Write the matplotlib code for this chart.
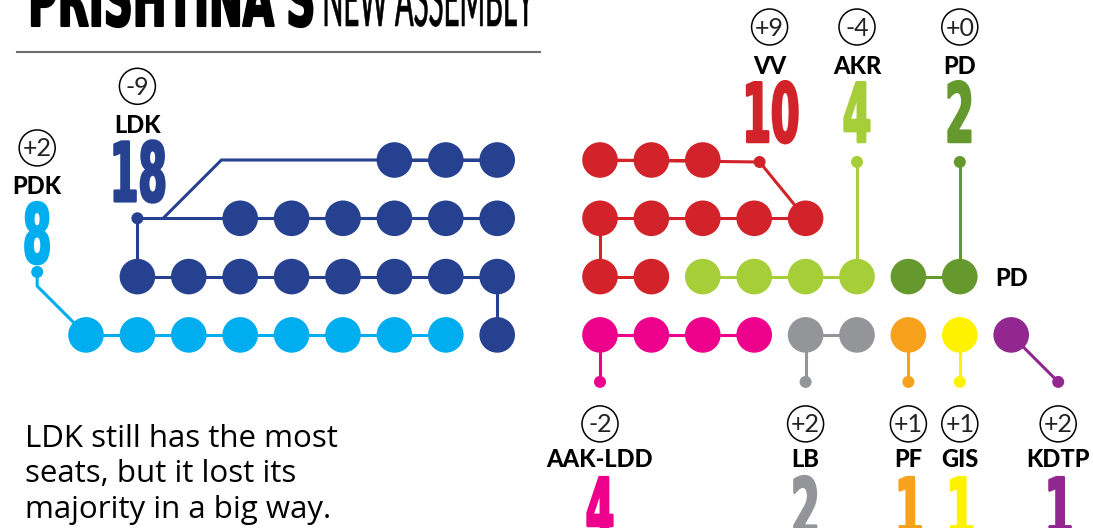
import matplotlib
matplotlib.use("Agg")
import matplotlib.pyplot as plt
from matplotlib.patches import Circle
from matplotlib.patheffects import AbstractPathEffect
from matplotlib.transforms import Affine2D

parties = ["PDK", "LDK", "VV", "AKR", "PD", "AAK-LDD", "LB", "PF", "GIS", "KDTP"]
seats = [8, 18, 10, 4, 2, 4, 2, 1, 1, 1]
changes = ["+2", "-9", "+9", "-4", "+0", "-2", "+2", "+1", "+1", "+2"]
colors = ["#00aeef", "#26418f", "#d2232a", "#a6ce39", "#65992e",
          "#ec008c", "#939598", "#f7a11d", "#fff200", "#92278f"]
title_bold = "PRISHTINA'S"
title_light = "NEW ASSEMBLY"
note = ["LDK still has the most", "seats, but it lost its", "majority in a big way."]

# --- layout (pixel space) ---
W, H = 1093, 528
X0, DX = 86, 51.4
Y0, DY = 160, 58.3
R_DOT, R_PIN = 17.8, 6
LW = 2.2

NUM_FONT = ["DejaVu Sans"]
LABEL_FONT = ["Lato", "DejaVu Sans"]


class Squeeze(AbstractPathEffect):
    """Draw a text narrowed horizontally, for the condensed display faces."""

    def __init__(self, sx, left=False, bold=0.0):
        super().__init__()
        self.sx, self.left, self.bold = sx, left, bold

    def draw_path(self, renderer, gc, tpath, affine, rgbFace=None):
        ext = tpath.get_extents(affine)
        cx = ext.x0 if self.left else 0.5 * (ext.x0 + ext.x1)
        aff = affine + Affine2D().translate(-cx, 0).scale(self.sx, 1).translate(cx, 0)
        gc0 = renderer.new_gc()
        gc0.copy_properties(gc)
        gc0.set_linewidth(self.bold)
        if self.bold and rgbFace is not None:
            gc0.set_foreground(rgbFace)
        renderer.draw_path(gc0, tpath, aff, rgbFace)
        gc0.restore()


def px(c):
    return X0 + DX * c


def py(r):
    return Y0 + DY * r


# seat slots: left block (PDK, LDK) filled from the bottom row, right block from the top row
left_slots = ([(c, 3) for c in range(0, 9)] + [(c, 2) for c in range(8, 0, -1)]
              + [(c, 1) for c in range(3, 9)] + [(c, 0) for c in range(6, 9)])
right_slots = ([(c, 0) for c in range(10, 13)] + [(c, 1) for c in range(10, 15)]
               + [(c, 2) for c in range(10, 18)] + [(c, 3) for c in range(10, 19)])

cells = {}
it_l, it_r = iter(left_slots), iter(right_slots)
for name, n in zip(parties, seats):
    src = it_l if name in ("PDK", "LDK") else it_r
    cells[name] = [next(src) for _ in range(n)]


def rows_of(name):
    out = {}
    for c, r in cells[name]:
        out.setdefault(r, []).append(c)
    return out


# connector routes and pin (anchor) positions
routes, pins, top = {}, {}, {}
a = (px(-0.95), py(1.92))
routes["PDK"] = [[a, (a[0], py(3) - (px(0) - a[0])), (px(0), py(3))]]
pins["PDK"], top["PDK"] = a, 9

rw = rows_of("LDK")
a = (px(min(rw[2])), py(1))
d0 = a[0] + 0.5 * DX
routes["LDK"] = [[a, (a[0], py(2))], [a, (px(max(rw[1])), py(1))],
                 [(d0, py(1)), (d0 + DY, py(0)), (px(max(rw[0])), py(0))],
                 [(px(max(rw[3])), py(3)), (px(max(rw[3])), py(2))]]
pins["LDK"], top["LDK"] = a, 17

rw = rows_of("VV")
a = (px(max(rw[1])) - 46, py(0) + 2)
routes["VV"] = [[(px(min(rw[0])), py(0)), a, (px(max(rw[1])), py(1))],
                [(px(min(rw[1])), py(1)), (px(min(rw[2])), py(2))]]
pins["VV"], top["VV"] = a, 20

for name in ["AKR", "PD"]:
    c = max(cc for cc, _ in cells[name])
    a = (px(c), py(0) + 2)
    routes[name] = [[a, (px(c), py(2))]]
    pins[name], top[name] = a, 20

for name in ["AAK-LDD", "LB", "PF", "GIS"]:
    c = min(cc for cc, _ in cells[name])
    a = (px(c), py(3) + 47)
    routes[name] = [[(px(c), py(3)), a]]
    pins[name] = a

c = max(cc for cc, _ in cells["KDTP"])
a = (px(c) + 47, py(3) + 47)
routes["KDTP"] = [[(px(c), py(3)), a]]
pins["KDTP"] = a

fig = plt.figure(figsize=(W / 100, H / 100), dpi=100)
ax = fig.add_axes([0, 0, 1, 1])
ax.set_xlim(0, W)
ax.set_ylim(H, 0)
ax.set_aspect("equal")
ax.axis("off")

for name, col in zip(parties, colors):
    # links between neighbouring seats
    for r, cs in rows_of(name).items():
        if len(cs) > 1:
            ax.plot([px(min(cs)), px(max(cs))], [py(r), py(r)], color=col, lw=LW,
                    solid_capstyle="butt", zorder=1)
    for line in routes[name]:
        xs, ys = zip(*line)
        ax.plot(xs, ys, color=col, lw=LW, solid_capstyle="butt", zorder=1)
    for cc, r in cells[name]:
        ax.add_patch(Circle((px(cc), py(r)), R_DOT, color=col, lw=0, zorder=2))
    ax.add_patch(Circle(pins[name], R_PIN, color=col, lw=0, zorder=2))


def label_stack(name, col, chg, n, x, circ_y, lab_y, num_base):
    ax.add_patch(Circle((x, circ_y), 18, fill=False, ec="black", lw=1.1, zorder=3))
    ax.text(x, circ_y + 8.5, chg, ha="center", va="baseline", fontsize=18,
            family=LABEL_FONT, weight="normal", color="#222222", zorder=4)
    ax.text(x, lab_y + 8.5, name, ha="center", va="baseline", fontsize=17,
            family=LABEL_FONT, weight="black", zorder=4)
    ax.text(x, num_base, str(n), ha="center", va="baseline", fontsize=59,
            family=NUM_FONT, weight="bold", color=col, zorder=4,
            path_effects=[Squeeze(0.5, bold=1.8)])


for name, col, chg, n in zip(parties, colors, changes, seats):
    x, y = pins[name]
    if name in top:
        base = y - top[name]
        lab = base - 60 - 17
        if name == "VV":
            x += 10
        label_stack(name, col, chg, n, x, lab - 38, lab, base)
    else:
        circ = y + 42
        label_stack(name, col, chg, n, x, circ, circ + 35, circ + 35 + 18 + 60)

ax.text(px(18), py(2) + 9, "PD", ha="center", va="baseline", fontsize=17,
        family=LABEL_FONT, weight="black")

# title, cut by the top edge like the source
renderer = fig.canvas.get_renderer()


def squeeze_to(t, target, bold=0.0):
    w = t.get_window_extent(renderer).width
    t.set_path_effects([Squeeze(target / w, left=True, bold=bold)])


t1 = ax.text(25, 26, title_bold, ha="left", va="baseline", fontsize=54,
             family=NUM_FONT, weight="bold", color="black")
squeeze_to(t1, 287, bold=1.5)
t2 = ax.text(318, 26, title_light, ha="left", va="baseline", fontsize=54,
             family=["Lato", "DejaVu Sans"], weight="normal", color="black")
squeeze_to(t2, 212, bold=0.4)
ax.plot([17, 540], [52, 52], color="#6d6e71", lw=1.5)

for i, line in enumerate(note):
    ax.text(25, 446.7 + 35.7 * i, line, ha="left", va="baseline", fontsize=22.5,
            family=["Open Sans", "DejaVu Sans"])

fig.savefig("out.png", dpi=100)
